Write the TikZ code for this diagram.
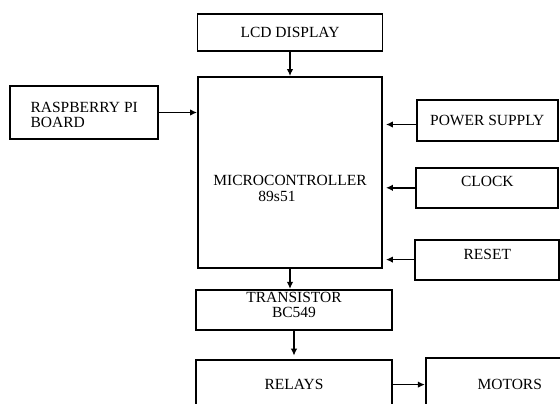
\documentclass[tikz,border=0pt]{standalone}
\usepackage{fontspec}
\setmainfont{Liberation Serif}
\usepackage{tikz}
\usetikzlibrary{arrows.meta,positioning}
\tikzset{
    blockBox/.style={
        draw,
        line width=1.8pt,
        align=center,
        inner sep=0pt,
        font=\fontsize{15.5}{15.5}\selectfont
    },
    blockArrow/.style={
        -{Latex[length=7pt,width=6.5pt]},
        line width=1.6pt
    },
    sideArrow/.style={
        blockArrow,
        shorten >=3pt
    }
}

\begin{document}
\begin{tikzpicture}[x=1pt,y=-1pt]
        \useasboundingbox (0,0) rectangle (560,404);

        \node[blockBox,minimum width=184pt,minimum height=191pt,text height=57.5pt,text depth=0pt] (micro) at (290,172.5) {MICROCONTROLLER\\89s51\hspace*{26pt}};
        \node[blockBox,minimum width=185pt,minimum height=37pt,above=24pt of micro] (lcd) {LCD DISPLAY};
        \node[blockBox,align=left,minimum width=148pt,minimum height=53pt,text height=30.5pt,text depth=0pt,below left=9pt and 38pt of micro.north west] (rpi) {RASPBERRY PI\\BOARD};

        \node[blockBox,minimum width=141pt,minimum height=41pt,below right=23pt and 33pt of micro.north east] (power) {POWER SUPPLY};
        \node[blockBox,minimum width=142pt,minimum height=40pt,text depth=12pt,below=25pt of power] (clock) {CLOCK};
        \node[blockBox,minimum width=144pt,minimum height=40pt,text depth=10pt,below=30pt of clock] (reset) {RESET};

        \node[blockBox,minimum width=196pt,minimum height=40pt,text height=25.5pt,text depth=10pt,below=20pt of micro,xshift=4pt] (transistor) {TRANSISTOR\\BC549};
        \node[blockBox,minimum width=196pt,minimum height=50pt,below=28pt of transistor] (relays) {RELAYS};
        \node[blockBox,minimum width=168pt,minimum height=54pt,right=32pt of relays] (motors) {MOTORS};

        \draw[blockArrow] (lcd) -- (micro);
        \draw[blockArrow] (rpi) -- (rpi -| micro.west);
        \draw[sideArrow] ([yshift=-4pt]power.west) -- ([yshift=-4pt]power.west -| micro.east);
        \draw[sideArrow] (clock) -- (clock -| micro.east);
        \draw[sideArrow] (reset) -- (reset -| micro.east);
        \draw[blockArrow] (micro.south) -- (micro.south |- transistor.north);
        \draw[sideArrow] (transistor) -- (relays);
        \draw[blockArrow] (relays) -- (motors);
    \end{tikzpicture}
\end{document}
